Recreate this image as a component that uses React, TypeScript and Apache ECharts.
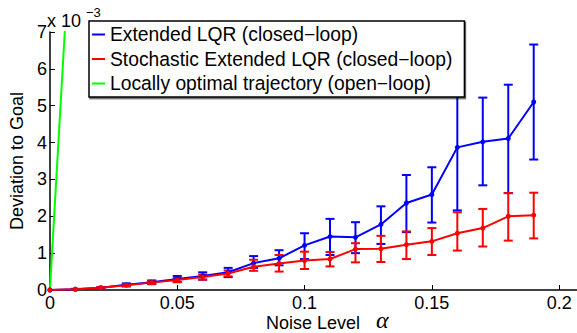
import React, { useEffect, useRef } from "react";
import * as echarts from "echarts";

const noise = [0, 0.01, 0.02, 0.03, 0.04, 0.05, 0.06, 0.07, 0.08, 0.09, 0.1, 0.11, 0.12, 0.13, 0.14, 0.15, 0.16, 0.17, 0.18, 0.19];

const lqrMean = [0, 0.02, 0.06, 0.14, 0.21, 0.3, 0.38, 0.48, 0.73, 0.86, 1.21, 1.45, 1.43, 1.78, 2.36, 2.59, 3.87, 4.02, 4.11, 5.1];
const lqrLow = [0, 0.01, 0.04, 0.1, 0.16, 0.22, 0.28, 0.35, 0.6, 0.67, 0.84, 0.95, 1.0, 1.25, 1.57, 1.83, 2.16, 2.84, 2.63, 3.54];
const lqrHigh = [0, 0.03, 0.08, 0.18, 0.26, 0.38, 0.48, 0.6, 0.92, 1.08, 1.54, 1.93, 1.84, 2.27, 3.12, 3.33, 5.52, 5.22, 5.57, 6.66];

const sMean = [0, 0.02, 0.06, 0.13, 0.2, 0.27, 0.35, 0.45, 0.63, 0.72, 0.8, 0.84, 1.11, 1.12, 1.23, 1.32, 1.54, 1.68, 2.0, 2.03];
const sLow = [0, 0.01, 0.04, 0.1, 0.16, 0.21, 0.28, 0.37, 0.52, 0.5, 0.57, 0.64, 0.75, 0.76, 0.84, 0.95, 1.07, 1.18, 1.34, 1.4];
const sHigh = [0, 0.03, 0.08, 0.16, 0.24, 0.33, 0.42, 0.53, 0.82, 0.95, 1.04, 1.03, 1.27, 1.47, 1.59, 1.68, 2.11, 2.2, 2.63, 2.64];

const openX = [0, 0.01];
const openY = [0, 12];

const xTicks = [0, 0.05, 0.1, 0.15, 0.2];
const seriesNames = [
  "Extended LQR (closed\u2212loop)",
  "Stochastic Extended LQR (closed\u2212loop)",
  "Locally optimal trajectory (open\u2212loop)",
];

const FONT = "Liberation Sans, Arial, Helvetica, sans-serif";

function errorSeries(color: string, low: number[], high: number[]) {
  return {
    type: "custom",
    silent: true,
    clip: true,
    encode: { x: 0, y: [1, 2] },
    data: noise.map((x, i) => [x, low[i], high[i]]),
    renderItem: (_p: any, api: any) => {
      const x = api.value(0);
      const a = api.coord([x, api.value(1)]);
      const b = api.coord([x, api.value(2)]);
      const hw = 4.5;
      const st = { stroke: color, lineWidth: 2 };
      return {
        type: "group",
        children: [
          { type: "line", shape: { x1: a[0], y1: a[1], x2: b[0], y2: b[1] }, style: st },
          { type: "line", shape: { x1: a[0] - hw, y1: a[1], x2: a[0] + hw, y2: a[1] }, style: st },
          { type: "line", shape: { x1: b[0] - hw, y1: b[1], x2: b[0] + hw, y2: b[1] }, style: st },
        ],
      };
    },
  };
}

function lineSeries(name: string, color: string, ys: number[], xs: number[], sym: boolean) {
  return {
    type: "line",
    name,
    data: xs.map((x, i) => [x, ys[i]]),
    symbol: sym ? "circle" : "none",
    symbolSize: 5,
    showSymbol: sym,
    clip: true,
    itemStyle: { color },
    lineStyle: { color, width: 2 },
  };
}

export default function App() {
  const ref = useRef<HTMLDivElement>(null);
  useEffect(() => {
    if (!ref.current) return;
    const chart = echarts.init(ref.current, undefined, { renderer: "svg" });
    chart.setOption({
      animation: false,
      backgroundColor: "#ffffff",
      grid: { left: 48, top: 32, right: 0, bottom: 43, containLabel: false },
      xAxis: {
        type: "value",
        min: 0,
        max: 0.207,
        interval: 0.05,
        axisLine: { show: true, lineStyle: { color: "#000", width: 1.5 } },
        axisTick: { show: true, inside: true, length: 5, customValues: xTicks, lineStyle: { color: "#000" } },
        axisLabel: {
          customValues: xTicks,
          color: "#000",
          fontSize: 18,
          fontFamily: FONT,
          margin: 4,
          formatter: (v: number) => (v === 0 ? "0" : String(+v.toFixed(2))),
        },
        splitLine: { show: false },
      },
      yAxis: {
        type: "value",
        min: 0,
        max: 7,
        interval: 1,
        name: "Deviation to Goal",
        nameLocation: "middle",
        nameGap: 16,
        nameTextStyle: { color: "#000", fontSize: 18, fontFamily: FONT },
        axisLine: { show: true, lineStyle: { color: "#000", width: 1.5 } },
        axisTick: { show: true, inside: true, length: 5, lineStyle: { color: "#000" } },
        axisLabel: { color: "#000", fontSize: 18, fontFamily: FONT, margin: 3 },
        splitLine: { show: false },
      },
      legend: {
        data: seriesNames,
        orient: "vertical",
        left: 89,
        top: 21,
        icon: "rect",
        itemWidth: 13,
        itemHeight: 2,
        itemGap: 5.5,
        padding: [4, 12, 4, 3],
        backgroundColor: "#fff",
        borderColor: "#000",
        borderWidth: 1.5,
        shadowColor: "rgba(0,0,0,0.6)",
        shadowOffsetX: 1,
        shadowOffsetY: 1.5,
        shadowBlur: 0,
        textStyle: { color: "#000", fontSize: 19.3, fontFamily: FONT },
        selectedMode: false,
      },
      graphic: [
        {
          type: "text",
          x: 266,
          y: 323,
          style: { text: "Noise Level", font: `18px ${FONT}`, fill: "#000", verticalAlign: "middle" },
        },
        {
          type: "text",
          x: 376,
          y: 320,
          style: { text: "\u03b1", font: `italic 24px "Liberation Serif", "DejaVu Serif", serif`, fill: "#000", verticalAlign: "middle" },
        },
        {
          type: "text",
          x: 47,
          y: 21,
          style: { text: "x 10", font: `18px ${FONT}`, fill: "#000", verticalAlign: "middle" },
        },
        {
          type: "text",
          x: 86,
          y: 12,
          style: { text: "\u22123", font: `13px ${FONT}`, fill: "#000", verticalAlign: "middle" },
        },
      ],
      series: [
        errorSeries("#0000ff", lqrLow, lqrHigh),
        lineSeries(seriesNames[0], "#0000ff", lqrMean, noise, true),
        errorSeries("#ff0000", sLow, sHigh),
        lineSeries(seriesNames[1], "#ff0000", sMean, noise, true),
        lineSeries(seriesNames[2], "#00ff00", openY, openX, false),
      ],
    });
    return () => chart.dispose();
  }, []);
  return <div ref={ref} style={{ position: "absolute", left: 0, top: 0, width: 577, height: 333 }} />;
}
